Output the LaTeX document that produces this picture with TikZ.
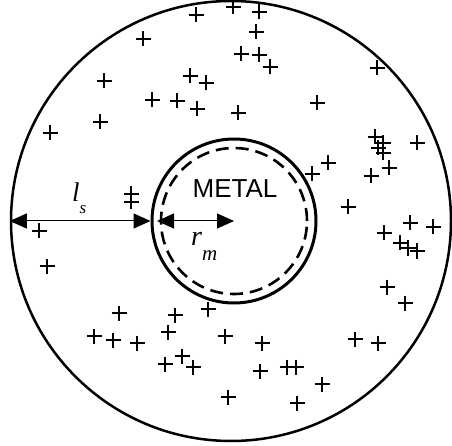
\documentclass[tikz,border=0pt]{standalone}
\usepackage{fontspec}
\setmainfont{Liberation Serif}
\setsansfont{Liberation Sans}
\usetikzlibrary{arrows.meta}
\begin{document}
\begin{tikzpicture}[x=1pt,y=-1pt,
  ring/.style={circle,draw,inner sep=0pt,line width=2.2pt},
  dimline/.style={line width=1pt,{Triangle[length=17pt,width=15pt]}-{Triangle[length=17pt,width=15pt]}},
  plusline/.style={line width=2.8pt}]
\useasboundingbox (0,0) rectangle (452,446);
\fill[white] (0,0) rectangle (452,446);
\node[ring,minimum size=440pt,line width=2.5pt] (outer) at (231,221) {};
\node[ring,minimum size=164pt,line width=3pt] (inner) at (234,221) {};
\node[circle,draw,inner sep=0pt,minimum size=146pt,line width=2.6pt,dash pattern=on 13pt off 7pt] (dash) at (234,221) {};
\coordinate (ctr) at (234,221);
\coordinate (rstart) at (157,221);
\draw[dimline] (outer.west) -- (inner.west);
\draw[dimline] (rstart) -- (ctr);
\node[font=\sffamily\fontsize{26}{26}\selectfont,inner sep=0pt] (metal) at (235,188.5) {METAL};
\node[anchor=base west,inner sep=0pt,font=\fontsize{27}{27}\selectfont\itshape] (ls) at (72,202) {l\raisebox{-12pt}{\fontsize{17}{17}\selectfont s}};
\node[anchor=base west,inner sep=0pt,font=\fontsize{28}{28}\selectfont\itshape] (rm) at (191,245) {r\raisebox{-15pt}{\fontsize{21}{21}\selectfont m}};
\foreach \x/\y in {196/15,143/39,104/81,190/76,206/83,152/100,177/101,197/109,100/122,50/133,
  233/7,259/12,256/32,241/54,259/55,270/67,377/68,317/103,238/113,417/143,
  375/137,383/143,378/148,383/153,328/163,312/174,389/168,371/176,348/207,
  410/223,433/227,384/233,400/243,408/248,417/251,387/287,405/303,
  131/194,131/202,39/231,47/266,
  119/313,175/315,208/309,94/336,113/340,137/343,168/332,182/356,165/364,193/367,
  225/336,262/343,260/371,287/367,296/367,322/384,297/403,228/397,355/339,378/343}
  \draw[plusline] (\x-7.5,\y) -- (\x+7.5,\y) (\x,\y-7.5) -- (\x,\y+7.5);
\end{tikzpicture}
\end{document}
